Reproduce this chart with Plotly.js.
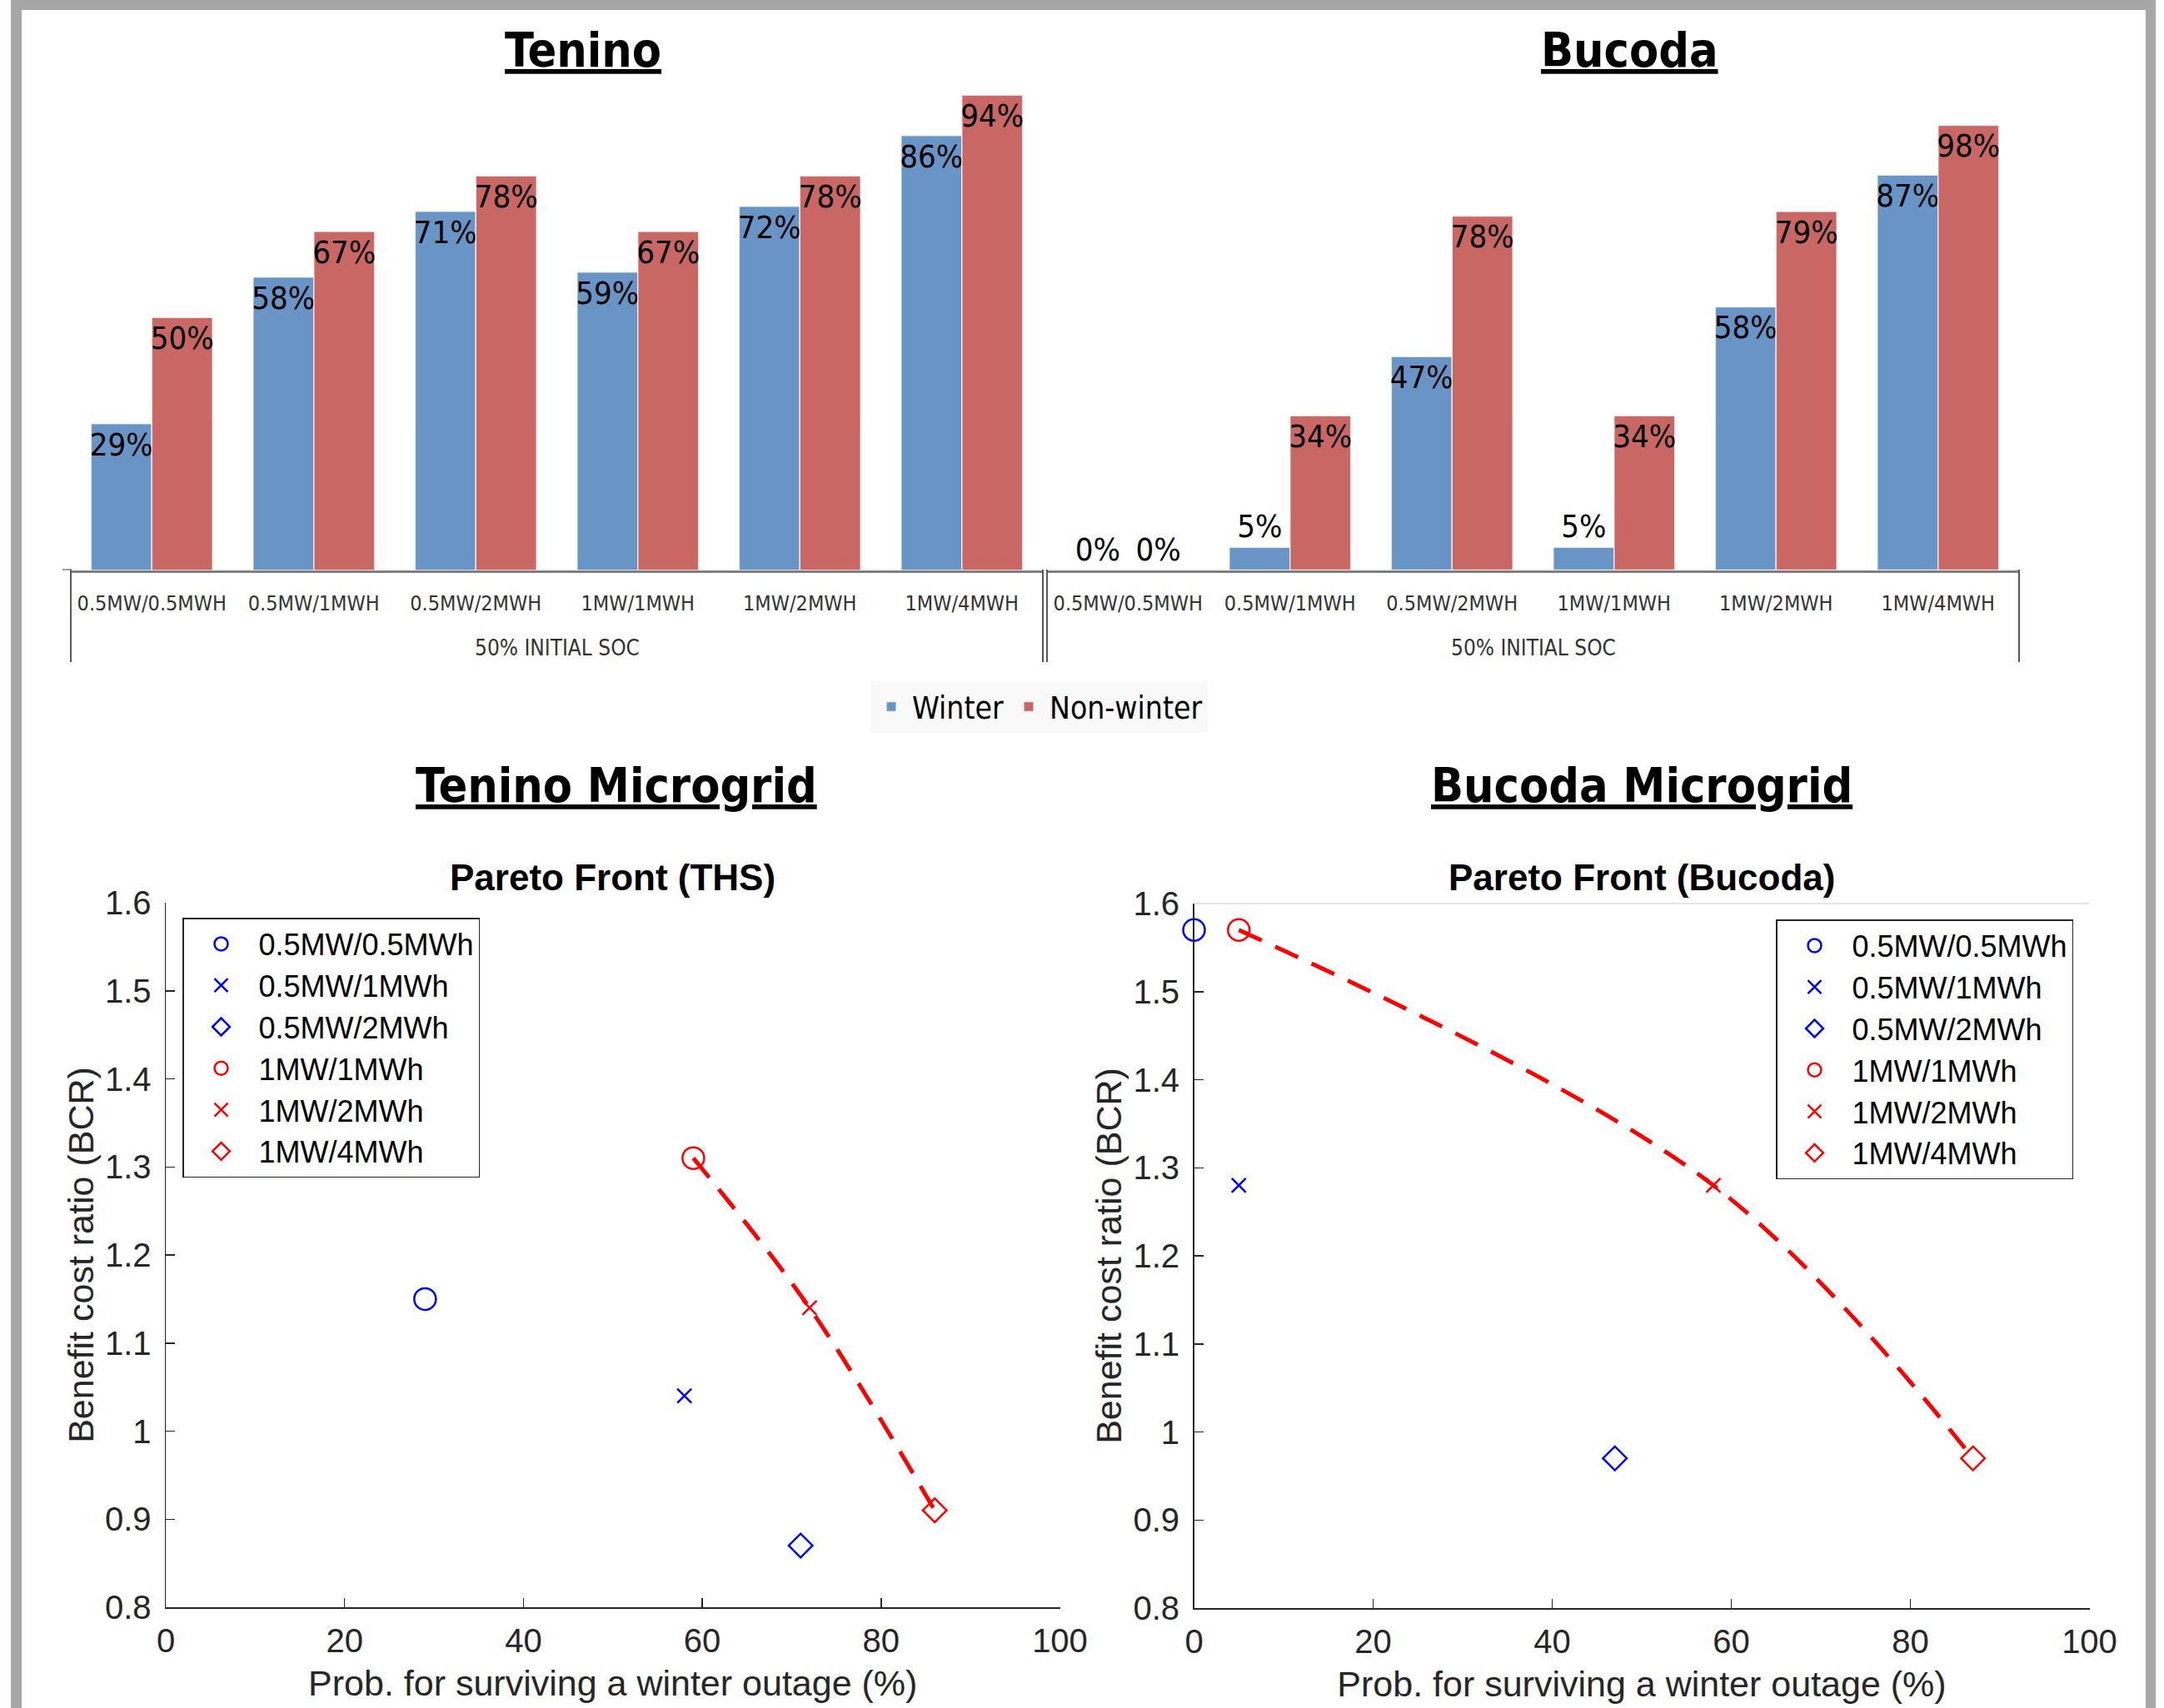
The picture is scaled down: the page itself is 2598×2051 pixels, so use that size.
<!DOCTYPE html>
<html>
<head>
<meta charset="utf-8">
<script src="https://cdn.plot.ly/plotly-3.0.1.min.js"></script>
<style>html,body{margin:0;padding:0;background:#fff;}#chart{width:2598px;height:2051px;}</style>
</head>
<body>
<div id="chart"></div>
<script>
// ---------------- data ----------------
const configs = ['0.5MW/0.5MWH','0.5MW/1MWH','0.5MW/2MWH','1MW/1MWH','1MW/2MWH','1MW/4MWH'];
const teninoWinter    = [29, 58, 71, 59, 72, 86];
const teninoNonWinter = [50, 67, 78, 67, 78, 94];
const bucodaWinter    = [0, 5, 47, 5, 58, 87];
const bucodaNonWinter = [0, 34, 78, 34, 79, 98];

const paretoLabels = ['0.5MW/0.5MWh','0.5MW/1MWh','0.5MW/2MWh','1MW/1MWh','1MW/2MWh','1MW/4MWh'];
const teninoProb = [29, 58, 71, 59, 72, 86];
const teninoBCR  = [1.15, 1.04, 0.87, 1.31, 1.14, 0.91];
const bucodaProb = [0, 5, 47, 5, 58, 87];
const bucodaBCR  = [1.57, 1.28, 0.97, 1.57, 1.28, 0.97];
const frontIdx = [3, 4, 5];

// ---------------- layout helpers ----------------
const W = 2598, H = 2051;
const fx = p => p / W;
const fy = p => 1 - p / H;
const NARROW = '"DejaVu Sans Condensed", "Liberation Sans Narrow", "Arial Narrow", sans-serif';
const SANS = '"Liberation Sans", Arial, Helvetica, sans-serif';
const BLUE = '#6994C6', RED = '#C96765';

const pos = v => v.map(x => x < 10 ? 'outside' : 'inside');

function barTrace(name, vals, color, xa, ya, showleg) {
  const f = {family: NARROW, size: 38, color: '#000'};
  return {
    type: 'bar', name: name, x: configs, y: vals, xaxis: xa, yaxis: ya,
    marker: {color: color, line: {color: 'rgba(255,255,255,0.7)', width: 1.5}},
    text: vals.map(v => v + '%'), textposition: pos(vals), insidetextanchor: 'end',
    textangle: 0, constraintext: 'none', cliponaxis: false,
    textfont: f, insidetextfont: f, outsidetextfont: f,
    showlegend: showleg, legend: 'legend', hoverinfo: 'none'
  };
}

const symbols = ['circle-open', 'x-thin', 'diamond-open', 'circle-open', 'x-thin', 'diamond-open'];
const sizes = [26, 17, 22, 26, 17, 22];
const colors = ['#0000FF', '#0000FF', '#0000FF', '#FF0000', '#FF0000', '#FF0000'];

function scatterTraces(xs, ys, xa, ya, leg) {
  const out = [];
  out.push({
    type: 'scatter', mode: 'lines', x: frontIdx.map(i => xs[i]), y: frontIdx.map(i => ys[i]),
    xaxis: xa, yaxis: ya, line: {color: '#FF0000', width: 5, dash: '30px,18px', shape: 'spline', smoothing: 1},
    showlegend: false, hoverinfo: 'none'
  });
  for (let i = 0; i < paretoLabels.length; i++) {
    out.push({
      type: 'scatter', mode: 'markers', name: paretoLabels[i], x: [xs[i]], y: [ys[i]],
      xaxis: xa, yaxis: ya, legend: leg, cliponaxis: false,
      marker: {symbol: symbols[i], size: sizes[i], color: colors[i], line: {color: colors[i], width: 2.5}},
      hoverinfo: 'none'
    });
  }
  return out;
}

const data = [
  barTrace('Winter', teninoWinter, BLUE, 'x', 'y', true),
  barTrace('Non-winter', teninoNonWinter, RED, 'x', 'y', true),
  barTrace('Winter', bucodaWinter, BLUE, 'x2', 'y2', false),
  barTrace('Non-winter', bucodaNonWinter, RED, 'x2', 'y2', false),
  ...scatterTraces(teninoProb, teninoBCR, 'x3', 'y3', 'legend2'),
  ...scatterTraces(bucodaProb, bucodaBCR, 'x4', 'y4', 'legend3')
];

const catAxis = (d, anchor) => ({
  type: 'category', domain: d, anchor: anchor, showline: true, linecolor: '#808080', linewidth: 3,
  ticks: '', showgrid: false, zeroline: false, fixedrange: true, ticklabelstandoff: 15, tickangle: 0,
  tickfont: {family: NARROW, size: 25, color: '#333'}
});
const valAxis = (d, anchor) => ({domain: d, anchor: anchor, range: [0, 100], visible: false, fixedrange: true});

const sxAxis = (d, anchor) => ({
  domain: d, anchor: anchor, range: [0, 100], dtick: 20, tick0: 0,
  ticks: 'inside', ticklen: 11, tickwidth: 1.5, tickcolor: '#262626',
  showline: true, linecolor: '#262626', linewidth: 1.5, showgrid: false, zeroline: false,
  tickfont: {family: SANS, size: 40, color: '#262626'}, ticklabelstandoff: 4,
  title: {text: 'Prob. for surviving a winter outage (%)', font: {family: SANS, size: 43, color: '#262626'}, standoff: 15}
});
const syAxis = (d, anchor) => ({
  domain: d, anchor: anchor, range: [0.8, 1.6], dtick: 0.1, tick0: 0.8,
  ticks: 'inside', ticklen: 11, tickwidth: 1.5, tickcolor: '#262626',
  showline: true, linecolor: '#262626', linewidth: 1.5, showgrid: false, zeroline: false,
  tickfont: {family: SANS, size: 40, color: '#262626'}, ticklabelstandoff: 8,
  title: {text: 'Benefit cost ratio (BCR)', font: {family: SANS, size: 43, color: '#262626'}, standoff: 0}
});

const ann = (text, x, y, font, extra) => Object.assign({
  text: text, x: fx(x), y: fy(y), xref: 'paper', yref: 'paper', showarrow: false,
  xanchor: 'center', yanchor: 'middle', font: font
}, extra || {});

const titleFont = {family: NARROW, size: 57, color: '#000', weight: 700, lineposition: 'under'};
const microFont = {family: NARROW, size: 57, color: '#000', weight: 700, lineposition: 'under'};
const socFont = {family: NARROW, size: 26, color: '#333'};
const paretoFont = {family: SANS, size: 44, color: '#000', weight: 700};

const vline = (xref, xv, y0, y1) => ({type: 'line', xref: xref, x0: xv, x1: xv, yref: 'paper', y0: fy(y0), y1: fy(y1),
  line: {color: '#595959', width: 2}});
const rect = (x0, y0, x1, y1, c) => ({type: 'rect', xref: 'paper', yref: 'paper', x0: fx(x0), x1: fx(x1), y0: fy(y1), y1: fy(y0),
  fillcolor: c, line: {width: 0}, layer: 'above'});

const legBox = {bgcolor: '#fff', bordercolor: '#262626', borderwidth: 1.5,
  font: {family: SANS, size: 36, color: '#000'}, itemwidth: 80};

const layout = {
  width: W, height: H, autosize: false, margin: {l: 0, r: 0, t: 0, b: 0, pad: 0},
  paper_bgcolor: '#fff', plot_bgcolor: 'rgba(0,0,0,0)',
  font: {family: SANS, color: '#262626'},
  barmode: 'group', bargap: 0.25, bargroupgap: 0,
  xaxis: catAxis([fx(85), fx(1252)], 'y'),
  yaxis: valAxis([fy(684.8), fy(77.8)], 'x'),
  xaxis2: catAxis([fx(1257), fx(2424)], 'y2'),
  yaxis2: valAxis([fy(684.5), fy(139.5)], 'x2'),
  xaxis3: sxAxis([fx(199), fx(1272.5)], 'y3'),
  yaxis3: syAxis([fy(1930), fy(1084)], 'x3'),
  xaxis4: sxAxis([fx(1433.5), fx(2508.5)], 'y4'),
  yaxis4: syAxis([fy(1931), fy(1085)], 'x4'),
  legend: {orientation: 'h', x: fx(1247), y: fy(849), xanchor: 'center', yanchor: 'middle',
    bgcolor: '#f9f9f9', borderwidth: 0, font: {family: NARROW, size: 37, color: '#000'}, itemwidth: 40},
  legend2: Object.assign({x: fx(219), y: fy(1102), xanchor: 'left', yanchor: 'top'}, legBox),
  legend3: Object.assign({x: fx(2489), y: fy(1104), xanchor: 'right', yanchor: 'top'}, legBox),
  annotations: [
    ann('Tenino', 700, 60, titleFont),
    ann('Bucoda', 1956, 60, titleFont),
    ann('50% INITIAL SOC', 668.5, 778, socFont),
    ann('50% INITIAL SOC', 1840.5, 778, socFont),
    ann('Tenino Microgrid', 739.5, 943, microFont),
    ann('Bucoda Microgrid', 1970.5, 943, microFont),
    ann('Pareto Front (THS)', 735.5, 1053, paretoFont),
    ann('Pareto Front (Bucoda)', 1971, 1053, paretoFont)
  ],
  shapes: [
    {type: 'line', xref: 'paper', yref: 'y', x0: fx(75), x1: fx(86), y0: 0, y1: 0, line: {color: '#808080', width: 3}},
    vline('x domain', 0, 684, 795),
    vline('x domain', 1, 684, 795),
    vline('x2 domain', 0, 684, 795),
    vline('x2 domain', 1, 684, 795),
    {type: 'line', xref: 'x4 domain', yref: 'y4 domain', x0: 0, x1: 1, y0: 1, y1: 1, line: {color: '#dcdcdc', width: 1.5}},
    rect(13, 0, 2588, 12, '#a6a6a6'),
    rect(13, 0, 26, 2051, '#a6a6a6'),
    rect(2576, 0, 2588, 2051, '#a6a6a6')
  ]
};

Plotly.newPlot('chart', data, layout, {staticPlot: true, displayModeBar: false});
</script>
</body>
</html>
